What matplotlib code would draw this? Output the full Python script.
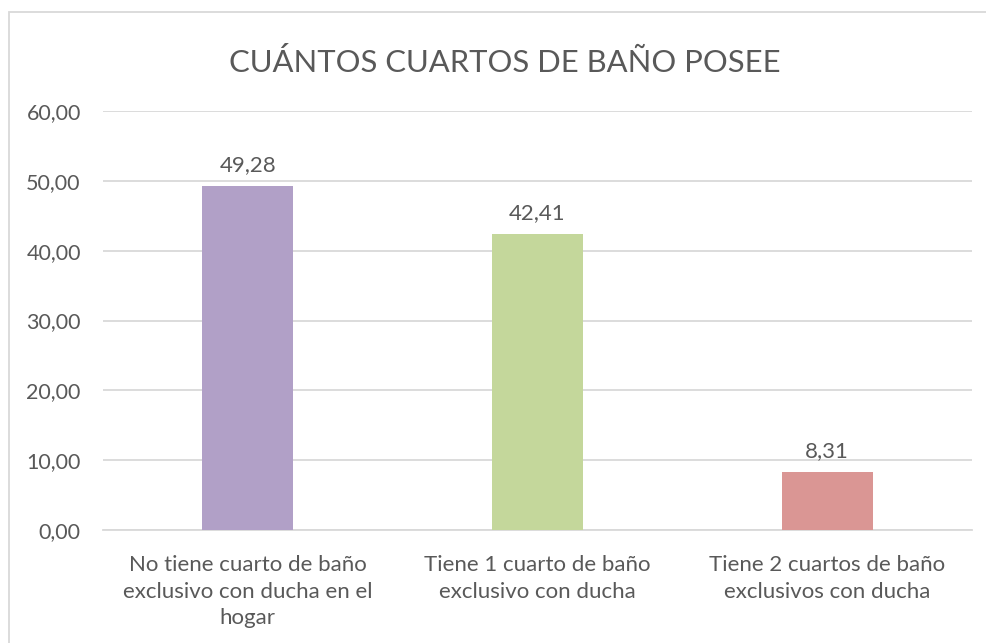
import matplotlib.pyplot as plt
from matplotlib.patches import Rectangle

plt.rcParams['font.family'] = ['Lato', 'DejaVu Sans']

categorias = ["No tiene cuarto de baño\nexclusivo con ducha en el\nhogar",
              "Tiene 1 cuarto de baño\nexclusivo con ducha",
              "Tiene 2 cuartos de baño\nexclusivos con ducha"]
valores = [49.28, 42.41, 8.31]
colores = ["#B1A0C7", "#C4D79B", "#DA9694"]
yticks = [0, 10, 20, 30, 40, 50, 60]

texto = "#595959"
grid = "#D9D9D9"

fig = plt.figure(figsize=(9.87, 6.43), dpi=100)
ax = fig.add_axes([103 / 987, 1 - 530 / 643, 869 / 987, 419 / 643])

x = range(len(valores))
barras = ax.bar(x, valores, width=0.315, color=colores, zorder=3)

for b, v in zip(barras, valores):
    ax.annotate(f"{v:.2f}".replace(".", ","),
                (b.get_x() + b.get_width() / 2, v),
                xytext=(0, 8), textcoords="offset points",
                ha="center", va="bottom", fontsize=16, color=texto)

ax.set_xlim(-0.5, 2.5)
ax.set_ylim(0, 60)
ax.set_yticks(yticks)
ax.set_yticklabels([f"{t:.2f}".replace(".", ",") for t in yticks],
                   fontsize=15.5, color=texto)
ax.set_xticks(list(x))
ax.set_xticklabels(categorias, fontsize=16, color=texto, linespacing=1.42)
ax.tick_params(axis="y", length=0, pad=16)
ax.tick_params(axis="x", length=0, pad=18)
ax.grid(axis="y", color=grid, linewidth=1.3, zorder=0)
for s in ["top", "right", "left"]:
    ax.spines[s].set_visible(False)
ax.spines["bottom"].set_color(grid)
ax.spines["bottom"].set_linewidth(1.3)

fig.text(505 / 987, 1 - 62 / 643, "CUÁNTOS CUARTOS DE BAÑO POSEE",
         ha="center", va="center", fontsize=22.3, color=texto)

fig.patches.append(Rectangle((9 / 987, -0.05), 1.2, 1 - 12 / 643 + 0.05,
                             transform=fig.transFigure, fill=False,
                             edgecolor=grid, linewidth=1.3))

fig.savefig("out.png", dpi=100, facecolor="white")
